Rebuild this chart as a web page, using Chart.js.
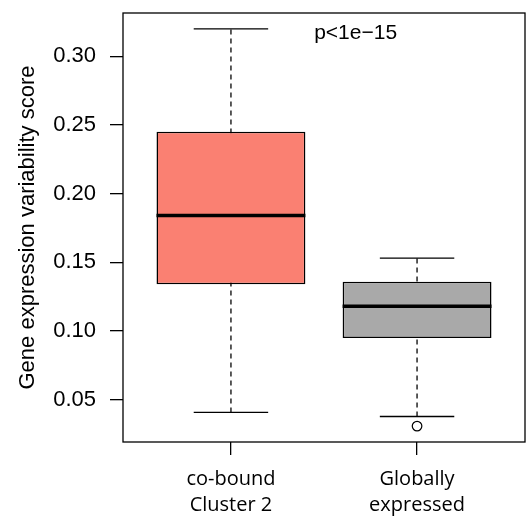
<!DOCTYPE html>
<html>
<head>
<meta charset="utf-8">
<script src="https://cdn.jsdelivr.net/npm/chart.js@4.4.1/dist/chart.umd.min.js"></script>
<style>
  html, body { margin: 0; padding: 0; background: #fff; }
  #wrap { width: 532px; height: 521px; }
</style>
</head>
<body>
<div id="wrap"><canvas id="graf"></canvas></div>
<script>
// box stats
const groups = [["co-bound", "Cluster 2"], ["Globally", "expressed"]];
const whiskerLow = [0.0406, 0.0376];
const q1 = [0.134, 0.0948];
const median = [0.184, 0.118];
const q3 = [0.245, 0.1358];
const whiskerHigh = [0.320, 0.153];
const outliers = [[], [0.0306]];
const boxColors = ['#FA8072', '#A9A9A9'];
const yTicks = [0.05, 0.10, 0.15, 0.20, 0.25, 0.30];
const pLabel = 'p<1e\u221215';
const pPos = { x: 1.67, y: 0.3165 };

// R-like limits: 4% extension
let allVals = whiskerLow.concat(whiskerHigh, outliers.flat());
let lo = Math.min(...allVals), hi = Math.max(...allVals);
let ext = (hi - lo) * 0.04;
const yMin = lo - ext;
const yMax = hi + ext;
const xMin = 0.5 - 0.04 * 2;
const xMax = 2.5 + 0.04 * 2;

function segs(fn) {
    let out = [];
    groups.forEach((g, i) => {
        if (i > 0) out.push({ x: i + 0.5, y: null });
        out.push(...fn(i + 1, i));
    });
    return out;
}

const whiskerData = segs((x, i) => [{ x: x, y: whiskerLow[i] }, { x: x, y: whiskerHigh[i] }]);
const capData = segs((x, i) => [
    { x: x - 0.2, y: whiskerHigh[i] }, { x: x + 0.2, y: whiskerHigh[i] }, { x: x, y: null },
    { x: x - 0.2, y: whiskerLow[i] }, { x: x + 0.2, y: whiskerLow[i] }
]);
const medianData = segs((x, i) => [{ x: x - 0.4, y: median[i] }, { x: x + 0.4, y: median[i] }]);
const boxData = groups.map((g, i) => ({ x: i + 1, y: [q1[i], q3[i]] }));
let outlierData = [];
outliers.forEach((arr, i) => arr.forEach(v => outlierData.push({ x: i + 1, y: v })));

const frame = {
    id: 'frame',
    afterDraw(chart) {
        const ctx = chart.ctx;
        const a = chart.chartArea;
        ctx.save();
        ctx.strokeStyle = '#000';
        ctx.lineWidth = 1.3;
        ctx.strokeRect(a.left, a.top, a.right - a.left, a.bottom - a.top);
        ctx.fillStyle = '#000';
        ctx.font = '21px "Liberation Sans", Arial, sans-serif';
        ctx.textAlign = 'center';
        ctx.textBaseline = 'middle';
        ctx.fillText(pLabel, chart.scales.x.getPixelForValue(pPos.x), chart.scales.y.getPixelForValue(pPos.y));
        ctx.restore();
    }
};

const chartOne = new Chart(document.getElementById('graf').getContext('2d'), {
    data: {
        datasets: [
            {
                type: 'line',
                label: 'median',
                data: medianData,
                borderColor: '#000',
                borderWidth: 3.5,
                pointRadius: 0,
                order: 1
            },
            {
                type: 'scatter',
                label: 'outliers',
                data: outlierData,
                pointStyle: 'circle',
                pointRadius: 4.8,
                backgroundColor: '#fff',
                borderColor: '#000',
                borderWidth: 1.2,
                order: 2
            },
            {
                type: 'line',
                label: 'caps',
                data: capData,
                borderColor: '#000',
                borderWidth: 1.3,
                pointRadius: 0,
                order: 3
            },
            {
                type: 'bar',
                label: 'box',
                data: boxData,
                backgroundColor: boxColors,
                borderColor: '#000',
                borderWidth: 1.5,
                borderSkipped: false,
                categoryPercentage: 0.8,
                barPercentage: 1,
                order: 4
            },
            {
                type: 'line',
                label: 'whiskers',
                data: whiskerData,
                borderColor: '#333',
                borderWidth: 1.6,
                borderDash: [5, 4],
                pointRadius: 0,
                order: 5
            }
        ]
    },
    options: {
        responsive: true,
        maintainAspectRatio: false,
        animation: false,
        layout: { padding: { left: 0, top: 13, right: 7, bottom: 0 } },
        plugins: {
            legend: { display: false },
            tooltip: { enabled: false }
        },
        scales: {
            x: {
                type: 'linear',
                min: xMin,
                max: xMax,
                offset: false,
                afterBuildTicks: s => { s.ticks = groups.map((g, i) => ({ value: i + 1 })); },
                afterFit: s => { s.height = 79; s.paddingLeft = 0; s.paddingRight = 0; },
                ticks: {
                    callback: (v) => groups[Math.round(v) - 1],
                    color: '#000',
                    font: { family: '"Open Sans", sans-serif', size: 20, lineHeight: 1.3 },
                    padding: 11,
                    maxRotation: 0
                },
                grid: { display: true, offset: false, drawOnChartArea: false, drawTicks: true, tickLength: 13, color: '#000', lineWidth: 1.3 },
                border: { display: false }
            },
            y: {
                type: 'linear',
                min: yMin,
                max: yMax,
                afterBuildTicks: s => { s.ticks = yTicks.map(v => ({ value: v })); },
                afterFit: s => { s.width = 123; s.paddingTop = 0; s.paddingBottom = 0; },
                ticks: {
                    callback: v => v.toFixed(2),
                    color: '#000',
                    font: { family: '"Liberation Sans", Arial, sans-serif', size: 22 },
                    padding: 14
                },
                grid: { display: true, drawOnChartArea: false, drawTicks: true, tickLength: 13, color: '#000', lineWidth: 1.3 },
                border: { display: false },
                title: {
                    display: true,
                    text: 'Gene expression variability score',
                    color: '#000',
                    font: { family: '"Liberation Sans", Arial, sans-serif', size: 22 },
                    padding: { top: 15, bottom: 0 }
                }
            }
        }
    },
    plugins: [frame]
});
</script>
</body>
</html>
